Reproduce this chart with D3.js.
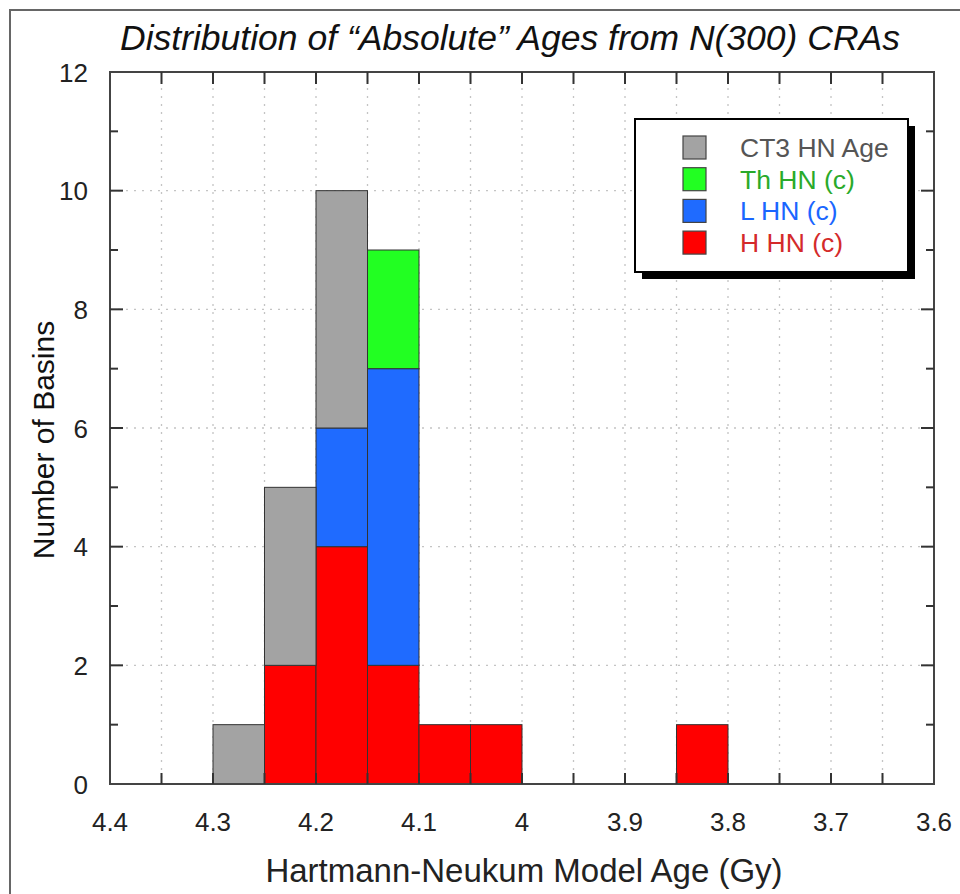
<!DOCTYPE html>
<html><head><meta charset="utf-8">
<script src="https://cdn.jsdelivr.net/npm/d3@7"></script>
<style>body{margin:0;background:#fff}svg{display:block}text{font-family:"Liberation Sans",Arial,sans-serif}</style>
</head><body>
<script>
const binStarts = [4.30, 4.25, 4.20, 4.15, 4.10, 4.05, 3.85];
const binWidth = 0.05;
const seriesNames = ["H HN (c)", "L HN (c)", "Th HN (c)", "CT3 HN Age"];
const hhn = [0, 2, 4, 2, 1, 1, 1];
const lhn = [0, 0, 2, 5, 0, 0, 0];
const thhn = [0, 0, 0, 2, 0, 0, 0];
const ct3 = [1, 3, 4, 0, 0, 0, 0];
const xTicks = [4.4, 4.3, 4.2, 4.1, 4.0, 3.9, 3.8, 3.7, 3.6];
const yTicks = [0, 2, 4, 6, 8, 10, 12];
const legendOrder = ["CT3 HN Age", "Th HN (c)", "L HN (c)", "H HN (c)"];

const fill = {"H HN (c)":"#ff0000","L HN (c)":"#1f6bff","Th HN (c)":"#22ff22","CT3 HN Age":"#a3a3a3"};
const textCol = {"H HN (c)":"#d42a2a","L HN (c)":"#1a66ff","Th HN (c)":"#2aaa2a","CT3 HN Age":"#555555"};

const W = 960, H = 894;
const m = {l:110, r:934, t:72, b:784};
const svg = d3.select("body").append("svg").attr("width", W).attr("height", H);

// outer frame
svg.append("rect").attr("x",10).attr("y",10).attr("width",W+20).attr("height",H+20)
  .attr("fill","none").attr("stroke","#666").attr("stroke-width",2);

const x = d3.scaleLinear().domain([4.4, 3.6]).range([m.l, m.r]);
const y = d3.scaleLinear().domain([0, 12]).range([m.b, m.t]);

// grid
const g = svg.append("g");
const vgrid = d3.range(1, 16).map(i => 4.4 - i*0.05);
g.selectAll(".vg").data(vgrid).join("line")
  .attr("x1", d=>x(d)).attr("x2", d=>x(d)).attr("y1", m.t).attr("y2", m.b)
  .attr("stroke","#c4c4c4").attr("stroke-width",1.3).attr("stroke-dasharray","2,6");
g.selectAll(".hg").data(yTicks.slice(1,-1)).join("line")
  .attr("x1", m.l).attr("x2", m.r).attr("y1", d=>y(d)).attr("y2", d=>y(d))
  .attr("stroke","#c4c4c4").attr("stroke-width",1.3).attr("stroke-dasharray","2,6");

// bars
const rows = binStarts.map((b,i)=>({bin:b, "H HN (c)":hhn[i], "L HN (c)":lhn[i], "Th HN (c)":thhn[i], "CT3 HN Age":ct3[i]}));
const stack = d3.stack().keys(seriesNames)(rows);
stack.forEach(s=>{
  svg.append("g").selectAll("rect").data(s.filter(d=>d[1]>d[0])).join("rect")
    .attr("x", d=>x(d.data.bin))
    .attr("width", d=>x(d.data.bin - binWidth) - x(d.data.bin))
    .attr("y", d=>y(d[1]))
    .attr("height", d=>y(d[0]) - y(d[1]))
    .attr("fill", fill[s.key]).attr("stroke","#333").attr("stroke-width",1);
});

// axes frame
svg.append("rect").attr("x",m.l).attr("y",m.t).attr("width",m.r-m.l).attr("height",m.b-m.t)
  .attr("fill","none").attr("stroke","#444").attr("stroke-width",2);

// ticks (inward)
const xt = d3.range(1,16).map(i=>4.4 - i*0.05);
const tk = svg.append("g").attr("stroke","#333").attr("stroke-width",2);
xt.forEach(v=>{
  tk.append("line").attr("x1",x(v)).attr("x2",x(v)).attr("y1",m.b).attr("y2",m.b-11);
  tk.append("line").attr("x1",x(v)).attr("x2",x(v)).attr("y1",m.t).attr("y2",m.t+12);
});
d3.range(1,12).forEach(v=>{
  const len = v%2===0 ? 13 : 8;
  tk.append("line").attr("x1",m.l).attr("x2",m.l+len).attr("y1",y(v)).attr("y2",y(v));
  tk.append("line").attr("x1",m.r).attr("x2",m.r-len).attr("y1",y(v)).attr("y2",y(v));
});

// tick labels
svg.append("g").selectAll("text").data(xTicks).join("text")
  .attr("x", d=>x(d)).attr("y", 831).attr("text-anchor","middle")
  .attr("font-size",26).attr("fill","#222").text(d=>d3.format("~g")(d));
svg.append("g").selectAll("text").data(yTicks).join("text")
  .attr("x", 88).attr("y", d=>y(d)+9.5).attr("text-anchor","end")
  .attr("font-size",26).attr("fill","#222").text(d=>d);

// axis titles
svg.append("text").attr("x", 524).attr("y", 882).attr("text-anchor","middle")
  .attr("font-size",33).attr("fill","#222").text("Hartmann-Neukum Model Age (Gy)");
svg.append("text").attr("transform","translate(54,440) rotate(-90)").attr("text-anchor","middle")
  .attr("font-size",30).attr("fill","#111").text("Number of Basins");

// title
svg.append("text").attr("x", 510).attr("y", 50).attr("text-anchor","middle")
  .attr("font-size",35.5).attr("font-style","italic").attr("fill","#111")
  .text("Distribution of \u201CAbsolute\u201D Ages from N(300) CRAs");

// legend
const lg = svg.append("g");
const lx=635, ly=119, lw=273, lh=153;
lg.append("rect").attr("x",lx+7).attr("y",ly+7).attr("width",lw).attr("height",lh).attr("fill","#000");
lg.append("rect").attr("x",lx).attr("y",ly).attr("width",lw).attr("height",lh).attr("fill","#fff").attr("stroke","#000").attr("stroke-width",2);
legendOrder.forEach((k,i)=>{
  const cy = 148 + i*31.7;
  lg.append("rect").attr("x",683).attr("y",cy-12).attr("width",23).attr("height",23)
    .attr("fill",fill[k]).attr("stroke","#444").attr("stroke-width",1.2);
  lg.append("text").attr("x",740).attr("y",cy+9).attr("font-size",26.5).attr("fill",textCol[k]).text(k);
});
</script>
</body></html>
